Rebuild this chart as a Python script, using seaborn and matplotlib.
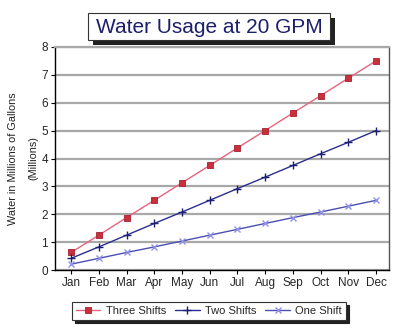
import matplotlib
matplotlib.use("Agg")
import matplotlib.pyplot as plt
import seaborn as sns
import pandas as pd
from matplotlib.patches import Rectangle

months = ["Jan", "Feb", "Mar", "Apr", "May", "Jun", "Jul", "Aug", "Sep", "Oct", "Nov", "Dec"]
three_shifts = [0.63, 1.25, 1.88, 2.5, 3.13, 3.75, 4.38, 5.0, 5.63, 6.25, 6.88, 7.5]
two_shifts = [0.42, 0.83, 1.25, 1.67, 2.08, 2.5, 2.92, 3.33, 3.75, 4.17, 4.58, 5.0]
one_shift = [0.21, 0.42, 0.63, 0.83, 1.04, 1.25, 1.46, 1.67, 1.88, 2.08, 2.29, 2.5]
series_names = ["Three Shifts", "Two Shifts", "One Shift"]
y_ticks = [0, 1, 2, 3, 4, 5, 6, 7, 8]

sns.set_theme(style="white")
plt.rcParams["font.family"] = ["Liberation Sans", "DejaVu Sans"]

df = pd.DataFrame({
    "Month": months * 3,
    "idx": list(range(12)) * 3,
    "Value": three_shifts + two_shifts + one_shift,
    "Series": [series_names[0]] * 12 + [series_names[1]] * 12 + [series_names[2]] * 12,
})

fig = plt.figure(figsize=(4.0, 3.33), dpi=100)
ax = fig.add_axes([0.1375, 0.189, 0.835, 0.670])

styles = {
    "Three Shifts": dict(color="#e8637e", marker="s", mfc="#c8303c", mec="#a82030", ms=5.0, mew=0.6),
    "Two Shifts": dict(color="#2b2f8c", marker="+", mfc="#2b2f8c", mec="#1c1f70", ms=6, mew=1.0),
    "One Shift": dict(color="#4a4fb0", marker="x", mfc="#9090e8", mec="#9090e8", ms=4.5, mew=1.0),
}

for name in series_names:
    sub = df[df["Series"] == name]
    st = styles[name]
    sns.lineplot(data=sub, x="idx", y="Value", ax=ax, color=st["color"], lw=1.0,
                 marker=st["marker"], markersize=st["ms"], markerfacecolor=st["mfc"],
                 markeredgecolor=st["mec"], markeredgewidth=st["mew"], label=name, legend=False)

ax.set_xlim(-0.58, 11.47)
ax.set_ylim(0, 8)
ax.set_yticks(y_ticks)
ax.set_yticklabels([str(v) for v in y_ticks], fontsize=8.5)
ax.set_xticks(range(12))
ax.set_xticklabels(months, fontsize=8.5)
ax.set_xlabel("")
ax.set_ylabel("")
ax.yaxis.grid(True, color="#a8a8a8", lw=1.6)
ax.set_axisbelow(True)
ax.tick_params(axis="both", which="major", length=3, width=0.8, color="black", pad=2,
               direction="out", bottom=True, left=True)
for s in ["left", "bottom"]:
    ax.spines[s].set_color("black")
    ax.spines[s].set_linewidth(1.0)
ax.spines["top"].set_color("#a8a8a8")
ax.spines["top"].set_linewidth(1.6)
ax.spines["right"].set_color("#555555")
ax.spines["right"].set_linewidth(1.0)

# Y axis label (two lines)
fig.text(13 / 400, 1 - 159 / 333, "Water in Millions of Gallons", rotation=90, ha="center", va="center",
         fontsize=7.8, color="#222222")
fig.text(33 / 400, 1 - 158 / 333, "(Millions)", rotation=90, ha="center", va="center",
         fontsize=7.8, color="#222222")

# Title box with drop shadow
tx0, ty0, tw, th = 88 / 400, 1 - 40 / 333, 242 / 400, 27 / 333
fig.patches.append(Rectangle((tx0 + 5 / 400, ty0 - 5 / 333), tw, th, transform=fig.transFigure,
                             facecolor="#222222", edgecolor="none", zorder=1))
fig.patches.append(Rectangle((tx0, ty0), tw, th, transform=fig.transFigure,
                             facecolor="white", edgecolor="#333333", lw=0.8, zorder=2))
fig.text(tx0 + tw / 2, ty0 + th / 2 - 0.002, "Water Usage at 20 GPM", ha="center", va="center",
         fontsize=15, color="#1c1f6a", zorder=3)

# Legend with drop shadow
handles, labels = ax.get_legend_handles_labels()
leg = fig.legend(handles, labels, loc="center", bbox_to_anchor=(209 / 400, 1 - 311 / 333), ncol=3,
                 fontsize=8, frameon=True, fancybox=False, shadow={"color": "#222222", "alpha": 1.0},
                 borderpad=0.35, handlelength=2.2, columnspacing=0.8, handletextpad=0.5)
leg.get_frame().set_edgecolor("#333333")
leg.get_frame().set_linewidth(0.8)

fig.savefig("out.png", dpi=100)
